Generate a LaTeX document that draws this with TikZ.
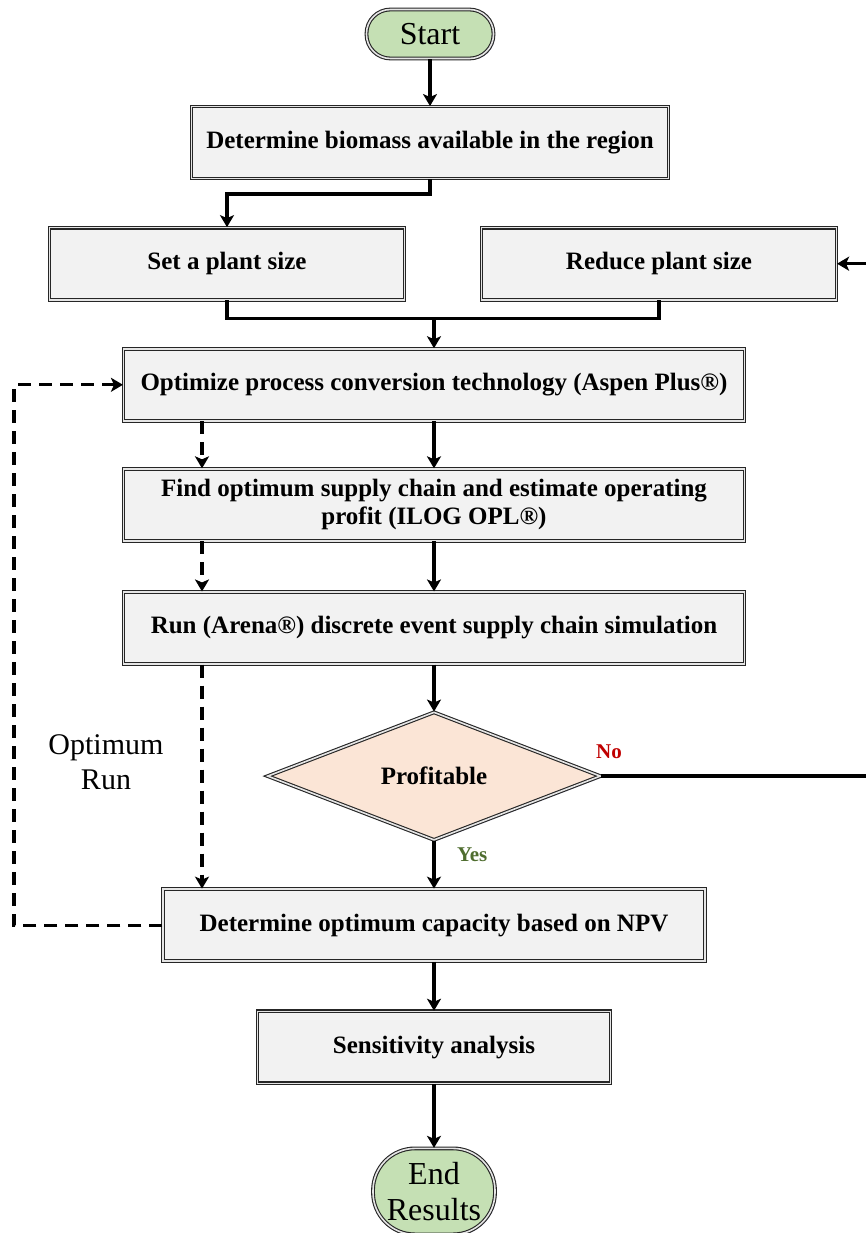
\documentclass[tikz,border=0pt]{standalone}
\usepackage{fontspec}
\setmainfont{Liberation Serif}
\usepackage{xcolor}
\usepackage{tikz}
\usetikzlibrary{arrows.meta,positioning,shapes.geometric,shadows}

\definecolor{boxfill}{HTML}{F2F2F2}
\definecolor{termfill}{HTML}{C5E0B4}
\definecolor{decfill}{HTML}{FBE5D6}
\definecolor{nored}{HTML}{C00000}
\definecolor{yesgreen}{HTML}{4F6D2F}

\begin{document}
\begin{tikzpicture}[
  x=1pt, y=-1pt,
  font=\fontsize{25}{28}\selectfont\bfseries,
  >={Stealth[length=12pt,width=14pt,inset=3pt]},
  frame/.style={
    draw=black!85, line width=1.1pt, double=white!90!black, double distance=1.6pt},
  glow/.style={
    drop shadow={shadow xshift=1.5pt, shadow yshift=-1.5pt, fill=blue!30, opacity=0.35}},
  proc/.style={
    frame, glow, rectangle, fill=boxfill, minimum height=72pt,
    align=center, inner sep=2pt},
  term/.style={
    frame, glow, rectangle, fill=termfill, align=center, inner sep=2pt,
    font=\fontsize{32}{36}\selectfont},
  decide/.style={
    frame, glow, diamond, fill=decfill, minimum width=333pt,
    minimum height=128pt, inner sep=0pt},
  edge/.style={->, line width=3.4pt},
  link/.style={line width=3.4pt},
  dedge/.style={->, line width=3.2pt, dash pattern=on 13pt off 8pt},
  lbl/.style={font=\fontsize{21}{24}\selectfont\bfseries},
]
\useasboundingbox (0,0) rectangle (865,1233);

% ---- Start and first steps ----
\node[term, minimum width=127pt, minimum height=49pt, rounded corners=24pt] (start) at (430,34) {Start};
\node[proc, minimum width=477pt, below=47pt of start] (biomass) {Determine biomass available in the region};
\node[proc, minimum width=355pt, below=48pt of biomass, xshift=-203pt] (setsize) {Set a plant size};
\node[proc, minimum width=355pt, below=48pt of biomass, xshift=229pt] (reduce) {Reduce plant size};

% ---- Main chain ----
\node[proc, minimum width=621pt, below=48pt of setsize, xshift=207pt] (aspen)
  {Optimize process conversion technology (Aspen Plus\textregistered)};
\node[proc, minimum width=621pt, below=47pt of aspen] (ilog)
  {Find optimum supply chain and estimate operating\\profit (ILOG OPL\textregistered)};
\node[proc, minimum width=621pt, below=50pt of ilog] (arena)
  {Run (Arena\textregistered) discrete event supply chain simulation};
\node[decide, below=47pt of arena] (profit) {Profitable};
\node[proc, minimum width=542pt, below=48pt of profit] (npv) {Determine optimum capacity based on NPV};
\node[proc, minimum width=353pt, below=49pt of npv] (sens) {Sensitivity analysis};
\node[term, minimum width=122pt, minimum height=86pt, rounded corners=42pt, below=64pt of sens] (results) {End\\Results};

\node[font=\fontsize{30}{35}\selectfont, align=center] (optrun) at (106,762) {Optimum\\Run};

% ---- Helper columns ----
\coordinate (split) at ([yshift=-15pt]biomass.south);
\coordinate (merge) at ([yshift=-18pt]setsize.south);
\coordinate (dcol) at (202,0);
\coordinate (lcol) at (14,0);
\coordinate (rcol) at (868,0);

% ---- Solid edges ----
\draw[edge] (start) -- (biomass);
\draw[edge] (biomass.south) -- (split) -| (setsize.north);
\draw[link] (setsize.south) -- (merge) -| (reduce.south);
\draw[edge] (merge -| aspen.north) -- (aspen.north);
\draw[edge] (aspen) -- (ilog);
\draw[edge] (ilog) -- (arena);
\draw[edge] (arena) -- (profit);
\draw[edge] (profit) -- node[lbl, text=yesgreen, pos=0.3, right=18pt]{Yes} (npv);
\draw[edge] (npv) -- (sens);
\draw[edge] (sens) -- (results);
\draw[edge] (profit.east) -- node[lbl, text=nored, pos=0.03, above=12pt]{No} (profit.east -| rcol)
  -- (reduce.east -| rcol) -- (reduce.east);

% ---- Dashed optimum run ----
\draw[dedge] (aspen.south -| dcol) -- (ilog.north -| dcol);
\draw[dedge] (ilog.south -| dcol) -- (arena.north -| dcol);
\draw[dedge] (arena.south -| dcol) -- (npv.north -| dcol);
\draw[dedge] (npv.west) -- (npv.west -| lcol) -- (aspen.west -| lcol) -- (aspen.west);

\end{tikzpicture}
\end{document}
